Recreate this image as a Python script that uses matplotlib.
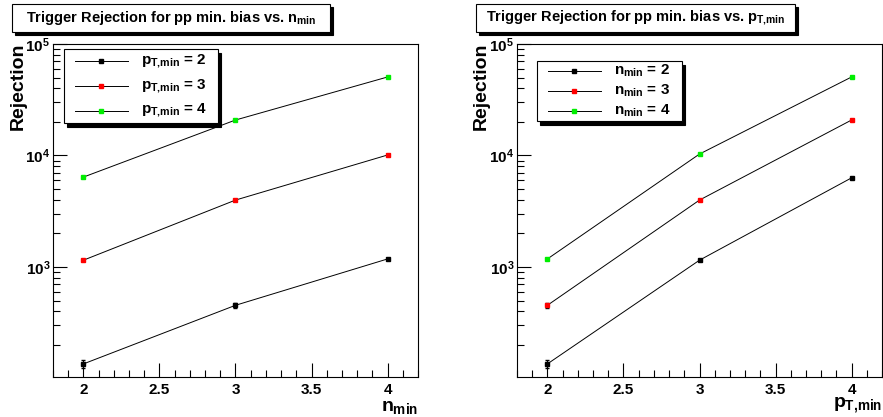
import numpy as np
import matplotlib
matplotlib.use('Agg')
import matplotlib.pyplot as plt
from matplotlib.patches import Rectangle
from matplotlib.ticker import LogLocator, MultipleLocator, NullFormatter

plt.rcParams['font.family'] = 'Liberation Sans'
plt.rcParams['font.weight'] = 'bold'
plt.rcParams['mathtext.fontset'] = 'custom'
plt.rcParams['mathtext.rm'] = 'Liberation Sans:bold'
plt.rcParams['mathtext.it'] = 'Liberation Sans:bold'
plt.rcParams['mathtext.bf'] = 'Liberation Sans:bold'

# rejection vs n_min, one series per pT_min
n_min = [2, 3, 4]
rej_pt2 = [135, 453, 1180]
rej_pt3 = [1150, 3980, 10100]
rej_pt4 = [6400, 20800, 50600]
err_pt2 = [12, 25, 25]
err_pt3 = [25, 60, 120]
err_pt4 = [60, 200, 400]

# rejection vs pT_min, one series per n_min
pt_min = [2, 3, 4]
rej_n2 = [135, 1150, 6300]
rej_n3 = [453, 3980, 20800]
rej_n4 = [1180, 10300, 50600]
err_n2 = [12, 25, 60]
err_n3 = [25, 60, 200]
err_n4 = [25, 120, 400]

colors = ['black', '#ff0000', '#00ee00']
W, H = 883, 417

fig = plt.figure(figsize=(W / 100, H / 100), dpi=100)


def title_box(x0, x1, text):
    # ROOT style pave with black shadow, given in pixels
    y0, y1 = 4, 32
    fig.patches.append(Rectangle(((x0 + 3) / W, 1 - (y1 + 3) / H), (x1 - x0) / W, (y1 - y0) / H,
                                 transform=fig.transFigure, facecolor='black', edgecolor='black', lw=0.8))
    fig.patches.append(Rectangle((x0 / W, 1 - y1 / H), (x1 - x0) / W, (y1 - y0) / H,
                                 transform=fig.transFigure, facecolor='white', edgecolor='black', lw=0.8))
    fig.text((x0 + x1) / 2 / W, 1 - (y0 + y1) / 2 / H, text, ha='center', va='center', fontsize=10.5)


def legend_box(ax, x0, x1, y0, y1, labels):
    ax.add_patch(Rectangle((x0 + 0.009, y0 - 0.011), x1 - x0, y1 - y0, transform=ax.transAxes,
                           facecolor='black', edgecolor='black', lw=0.8, zorder=5, clip_on=False))
    ax.add_patch(Rectangle((x0, y0), x1 - x0, y1 - y0, transform=ax.transAxes,
                           facecolor='white', edgecolor='black', lw=0.8, zorder=6, clip_on=False))
    n = len(labels)
    for i, (lab, c) in enumerate(zip(labels, colors)):
        yy = y1 - (y1 - y0) * (i + 0.5) / n
        ax.plot([x0 + 0.03, x0 + 0.175], [yy, yy], color='black', lw=0.7,
                transform=ax.transAxes, zorder=7, clip_on=False)
        ax.plot([x0 + 0.1025], [yy], marker='s', ms=3, color=c, mec=c,
                transform=ax.transAxes, zorder=8, clip_on=False)
        ax.text(x0 + 0.21, yy, lab, transform=ax.transAxes, va='center', ha='left',
                fontsize=11, zorder=8)


def setup_axes(ax):
    ax.set_yscale('log')
    ax.set_xlim(1.8, 4.2)
    ax.set_ylim(103, 1e5)
    ax.xaxis.set_major_locator(MultipleLocator(0.5))
    ax.xaxis.set_minor_locator(MultipleLocator(0.1))
    ax.yaxis.set_major_locator(LogLocator(base=10))
    ax.yaxis.set_minor_locator(LogLocator(base=10, subs=np.arange(2, 10)))
    ax.yaxis.set_minor_formatter(NullFormatter())
    ax.tick_params(which='both', direction='in', top=False, right=False, labelsize=11, width=0.8)
    ax.tick_params(axis='x', which='major', length=10, pad=4)
    ax.tick_params(axis='x', which='minor', length=5)
    ax.tick_params(axis='y', which='major', length=10, pad=2)
    ax.tick_params(axis='y', which='minor', length=5)
    for s in ax.spines.values():
        s.set_linewidth(0.8)
    ax.set_xticks([2, 2.5, 3, 3.5, 4])
    ax.set_xticklabels(['2', '2.5', '3', '3.5', '4'])


# left panel
ax1 = fig.add_axes([53 / W, 1 - 377 / H, 365 / W, 333 / H])
setup_axes(ax1)
for vals, errs, c in zip([rej_pt2, rej_pt3, rej_pt4], [err_pt2, err_pt3, err_pt4], colors):
    ax1.plot(n_min, vals, color='black', lw=0.7, zorder=2)
    ax1.errorbar(n_min, vals, yerr=errs, fmt='s', ms=3.2, color=c, mec=c,
                 ecolor='black', elinewidth=0.8, capsize=1.5, zorder=3)
legend_box(ax1, 0.030, 0.452, 0.763, 0.985,
           [r'$p_{T{,}min}$ = 2', r'$p_{T{,}min}$ = 3', r'$p_{T{,}min}$ = 4'])

# right panel
ax2 = fig.add_axes([517 / W, 1 - 377 / H, 365 / W, 333 / H])
setup_axes(ax2)
for vals, errs, c in zip([rej_n2, rej_n3, rej_n4], [err_n2, err_n3, err_n4], colors):
    ax2.plot(pt_min, vals, color='black', lw=0.7, zorder=2)
    ax2.errorbar(pt_min, vals, yerr=errs, fmt='s', ms=3.2, color=c, mec=c,
                 ecolor='black', elinewidth=0.8, capsize=1.5, zorder=3)
legend_box(ax2, 0.055, 0.452, 0.769, 0.949,
           [r'$n_{min}$ = 2', r'$n_{min}$ = 3', r'$n_{min}$ = 4'])

title_box(12, 330, r'Trigger Rejection for pp min. bias vs. $n_{min}$')
title_box(476, 795, r'Trigger Rejection for pp min. bias vs. $p_{T{,}min}$')

fig.text(18 / W, 1 - 43 / H, 'Rejection', rotation=90, ha='center', va='top', fontsize=14)
fig.text(481 / W, 1 - 43 / H, 'Rejection', rotation=90, ha='center', va='top', fontsize=14)
fig.text(418 / W, 1 - 416 / H, r'$n_{min}$', ha='right', va='bottom', fontsize=14)
fig.text(882 / W, 1 - 415 / H, r'$p_{T{,}min}$', ha='right', va='bottom', fontsize=14)

fig.savefig('out.png', dpi=100)
